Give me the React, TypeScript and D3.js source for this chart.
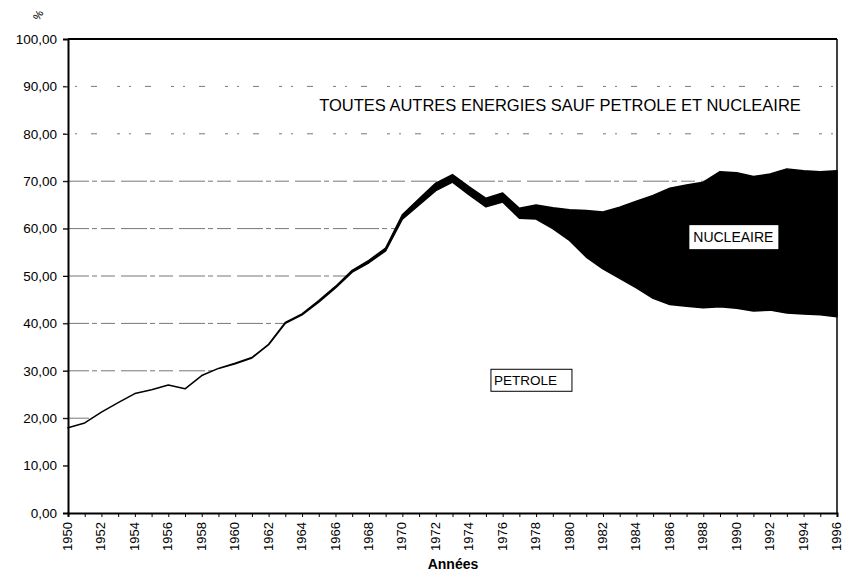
import React, { useEffect, useRef } from 'react';
import * as d3 from 'd3';

// years 1950 -> 1996
const years = d3.range(1950, 1997);
// share of oil (%)
const petrole = [
  18, 19, 21.3, 23.3, 25.2, 26, 27, 26.2, 29, 30.5,
  31.5, 32.7, 35.5, 40, 41.8, 44.5, 47.5, 50.8, 52.8, 55.3,
  62, 65, 68, 69.8, 67.1, 64.6, 65.6, 62.2, 62.0, 60.0,
  57.5, 54, 51.5, 49.5, 47.5, 45.3, 44.0, 43.6, 43.3, 43.5,
  43.2, 42.6, 42.8, 42.2, 42.0, 41.8, 41.4,
];
// share of nuclear (%), stacked on top of oil
const nucleaire = [
  0, 0, 0, 0, 0, 0, 0, 0, 0, 0,
  0.1, 0.1, 0.1, 0.2, 0.2, 0.3, 0.3, 0.4, 0.5, 0.6,
  0.9, 1.3, 1.6, 1.6, 1.7, 1.8, 1.9, 2.1, 3.0, 4.4,
  6.5, 9.8, 12.0, 15.0, 18.3, 21.7, 24.5, 25.6, 26.5, 28.5,
  28.6, 28.4, 28.7, 30.4, 30.2, 30.2, 30.8,
];
const yTicks = [0, 10, 20, 30, 40, 50, 60, 70, 80, 90, 100];

const W = 844;
const H = 574;
const margin = { top: 39, right: 7, bottom: 61, left: 68 };
const font = 'Arial, "Liberation Sans", sans-serif';

export default function App() {
  const ref = useRef<SVGSVGElement | null>(null);

  useEffect(() => {
    const svg = d3.select(ref.current);
    svg.selectAll('*').remove();

    const x = d3.scaleLinear().domain([1950, 1996]).range([margin.left, W - margin.right]);
    const y = d3.scaleLinear().domain([0, 100]).range([H - margin.bottom, margin.top]);

    const rows = years.map((yr, i) => ({ yr, p: petrole[i], n: nucleaire[i] }));

    svg.append('rect').attr('width', W).attr('height', H).attr('fill', '#fff');

    // gridlines (broken look of the scan)
    svg
      .append('g')
      .selectAll('line')
      .data(yTicks.filter((d) => d > 0 && d < 100))
      .enter()
      .append('line')
      .attr('x1', margin.left - 5)
      .attr('x2', W - margin.right)
      .attr('y1', (d) => y(d))
      .attr('y2', (d) => y(d))
      .attr('stroke', '#777')
      .attr('stroke-width', 1)
      .attr('stroke-dasharray', (d) => (d >= 80 ? '3 9 2 14 6 20' : '26 3 5 4 14 6'));

    // oil area, white, hides grid below the curve
    const areaP = d3
      .area<any>()
      .x((d) => x(d.yr))
      .y0(y(0))
      .y1((d) => y(d.p));
    svg.append('path').datum(rows).attr('d', areaP).attr('fill', '#fff');

    // nuclear band
    const areaN = d3
      .area<any>()
      .x((d) => x(d.yr))
      .y0((d) => y(d.p))
      .y1((d) => y(d.p + d.n));
    svg
      .append('path')
      .datum(rows)
      .attr('d', areaN)
      .attr('fill', '#000')
      .attr('stroke', '#000')
      .attr('stroke-width', 1.5)
      .attr('stroke-linejoin', 'round');

    // frame
    const x0 = x(1950);
    const x1 = x(1996);
    svg.append('line').attr('x1', x0).attr('x2', x1).attr('y1', y(100)).attr('y2', y(100))
      .attr('stroke', '#000').attr('stroke-width', 2);
    svg.append('line').attr('x1', x1).attr('x2', x1).attr('y1', y(100)).attr('y2', y(0))
      .attr('stroke', '#000').attr('stroke-width', 1.5);

    // y axis
    const yAxis = d3
      .axisLeft(y)
      .tickValues(yTicks)
      .tickSize(5)
      .tickFormat((d) => d3.format('.2f')(d as number).replace('.', ','));
    const gy = svg.append('g').attr('transform', `translate(${x0},0)`).call(yAxis);
    gy.select('.domain').attr('stroke-width', 2);
    gy.selectAll('text').attr('font-family', font).attr('font-size', 13.5).attr('fill', '#000').attr('x', -11);

    // x axis: tick every year, label every two
    const xAxis = d3
      .axisBottom(x)
      .tickValues(years)
      .tickSize(4)
      .tickFormat((d) => ((d as number) % 2 === 0 ? String(d) : ''));
    const gx = svg.append('g').attr('transform', `translate(0,${y(0)})`).call(xAxis);
    gx.select('.domain').attr('stroke-width', 2);
    gx.selectAll('text')
      .attr('font-family', font)
      .attr('font-size', 13)
      .attr('fill', '#000')
      .attr('transform', 'rotate(-90)')
      .attr('text-anchor', 'end')
      .attr('x', -9)
      .attr('y', -1)
      .attr('dy', '0.35em');

    // axis titles
    svg.append('text').attr('x', 38).attr('y', 15).attr('text-anchor', 'middle')
      .attr('transform', 'rotate(-60,38,15)').attr('dy', '0.35em')
      .attr('font-family', font).attr('font-size', 11).text('%');
    svg.append('text').attr('x', 453).attr('y', 569).attr('text-anchor', 'middle')
      .attr('font-family', font).attr('font-size', 14).attr('font-weight', 'bold').text('Années');

    // annotations
    svg.append('text').attr('x', 560).attr('y', 111).attr('text-anchor', 'middle')
      .attr('font-family', font).attr('font-size', 16.5)
      .text('TOUTES AUTRES ENERGIES SAUF PETROLE ET NUCLEAIRE');

    const nx = x(1989.8);
    const ny = y(58.2);
    svg.append('rect').attr('x', nx - 44).attr('y', ny - 12).attr('width', 89).attr('height', 24).attr('fill', '#fff');
    svg.append('text').attr('x', nx).attr('y', ny).attr('dy', '0.35em').attr('text-anchor', 'middle')
      .attr('font-family', font).attr('font-size', 14).text('NUCLEAIRE');

    const px = x(1975.3);
    const py = y(28);
    svg.append('rect').attr('x', px).attr('y', py - 11).attr('width', 81).attr('height', 22)
      .attr('fill', '#fff').attr('stroke', '#000').attr('stroke-width', 1);
    svg.append('text').attr('x', px + 3).attr('y', py).attr('dy', '0.35em')
      .attr('font-family', font).attr('font-size', 13.5).text('PETROLE');
  }, []);

  return (
    <svg
      ref={ref}
      width={W}
      height={H}
      style={{ position: 'absolute', left: 0, top: 0, display: 'block' }}
    />
  );
}
